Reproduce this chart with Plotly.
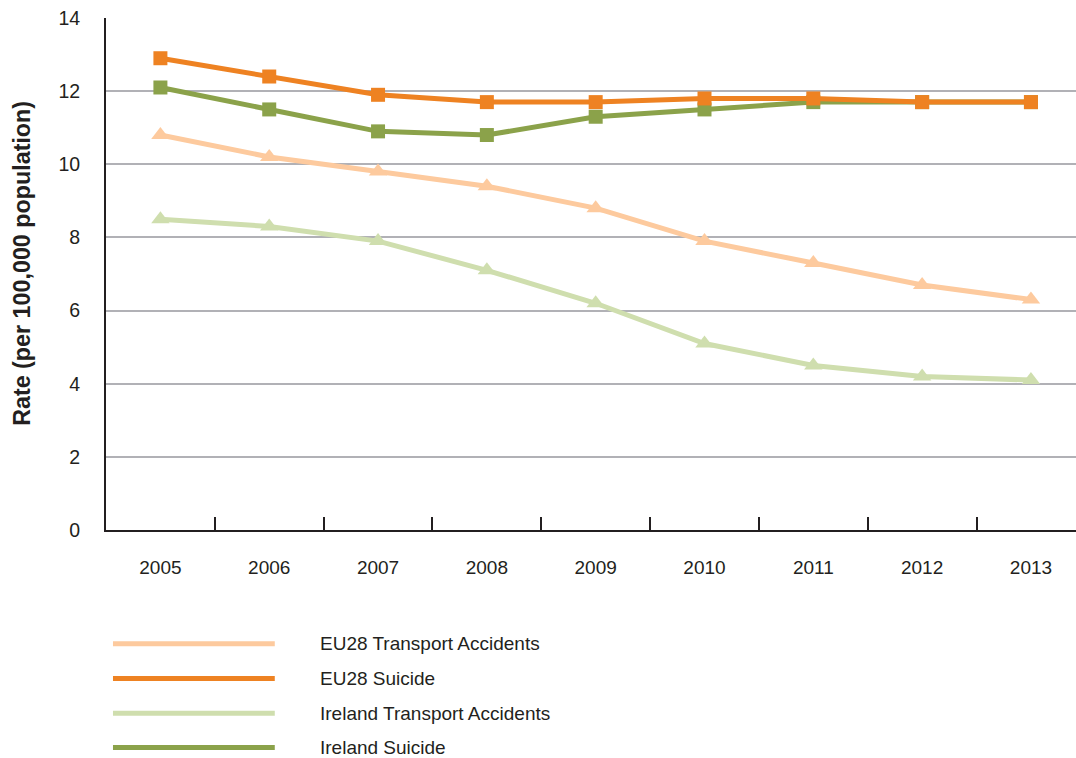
import plotly.graph_objects as go

# Rates per 100,000 population, 2005-2013
years = ["2005", "2006", "2007", "2008", "2009", "2010", "2011", "2012", "2013"]
eu28_transport = [10.8, 10.2, 9.8, 9.4, 8.8, 7.9, 7.3, 6.7, 6.3]
eu28_suicide = [12.9, 12.4, 11.9, 11.7, 11.7, 11.8, 11.8, 11.7, 11.7]
ireland_transport = [8.5, 8.3, 7.9, 7.1, 6.2, 5.1, 4.5, 4.2, 4.1]
ireland_suicide = [12.1, 11.5, 10.9, 10.8, 11.3, 11.5, 11.7, 11.7, 11.7]

y_ticks = [0, 2, 4, 6, 8, 10, 12, 14]

series_names = ["EU28 Transport Accidents", "EU28 Suicide",
                "Ireland Transport Accidents", "Ireland Suicide"]
series_values = [eu28_transport, eu28_suicide, ireland_transport, ireland_suicide]
series_colors = ["#FDCA9E", "#EE8222", "#CFDEAE", "#8BA24A"]
series_symbols = ["triangle-up", "square", "triangle-up", "square"]

TEXT = "#231F20"
FONT = "Liberation Sans, Arial, Helvetica, sans-serif"

fig = go.Figure()

# draw order: light lines first, suicide lines on top (EU28 last)
for i in [2, 0, 3, 1]:
    fig.add_trace(go.Scatter(
        x=years, y=series_values[i], name=series_names[i],
        mode="lines+markers",
        line=dict(color=series_colors[i], width=5),
        marker=dict(symbol=series_symbols[i], color=series_colors[i],
                    size=14 if series_symbols[i] == "square" else 16,
                    line=dict(width=0)),
        showlegend=False,
    ))

# legend drawn below the plot: long line swatch + label
legend_rows_y = [-0.222, -0.290, -0.358, -0.425]
for name, color, yy in zip(series_names, series_colors, legend_rows_y):
    fig.add_shape(type="line", xref="paper", yref="paper",
                  x0=0.0072, x1=0.174, y0=yy, y1=yy,
                  line=dict(color=color, width=5))
    fig.add_annotation(xref="paper", yref="paper", x=0.219, y=yy,
                       text=name, showarrow=False, xanchor="left",
                       yanchor="middle",
                       font=dict(family=FONT, size=19, color=TEXT))

fig.add_annotation(xref="paper", yref="paper", x=-0.0865, y=0.52,
                   text="<b>Rate (per 100,000 population)</b>",
                   textangle=-90, showarrow=False,
                   xanchor="center", yanchor="middle",
                   font=dict(family=FONT, size=23.3, color=TEXT))

fig.update_layout(
    width=1076, height=758,
    margin=dict(l=106, r=0, t=18, b=228),
    paper_bgcolor="white", plot_bgcolor="white",
    font=dict(family=FONT, size=19, color=TEXT),
    xaxis=dict(
        type="category", range=[-0.5, 8.414],
        showline=True, linecolor=TEXT, linewidth=2,
        showgrid=False, zeroline=False,
        ticks="inside", tickson="boundaries", ticklen=13,
        tickwidth=2, tickcolor=TEXT,
        ticklabelstandoff=19,
        tickfont=dict(family=FONT, size=19, color=TEXT),
        fixedrange=True,
    ),
    yaxis=dict(
        range=[0, 14], tickvals=y_ticks,
        showline=True, linecolor=TEXT, linewidth=2,
        showgrid=True, gridcolor="#B1B1B6", gridwidth=1.5,
        zeroline=False, ticks="",
        ticklabelstandoff=20,
        tickfont=dict(family=FONT, size=19.5, color=TEXT),
        fixedrange=True,
    ),
)

fig.write_html("out.html", config={"displayModeBar": False})
